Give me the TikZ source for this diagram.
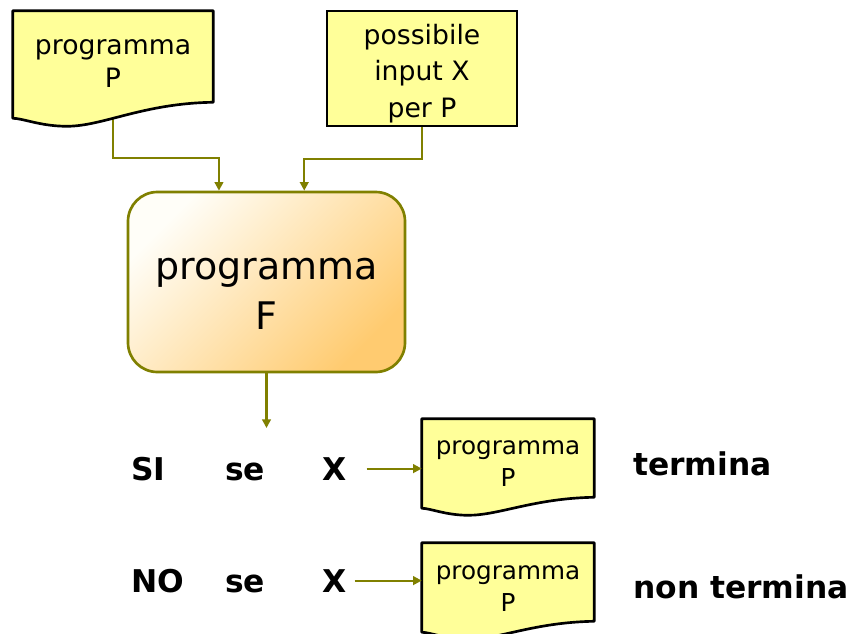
\documentclass[tikz,border=0pt]{standalone}
\usepackage{fontspec}
\setmainfont{DejaVu Sans}
\usetikzlibrary{calc,arrows.meta}
\definecolor{olivec}{HTML}{808000}
\definecolor{docyellow}{HTML}{FFFF99}
\definecolor{fA}{HTML}{FFFEF8}
\definecolor{fB}{HTML}{FFCB70}
\pgfdeclarelayer{paper}
\pgfdeclarelayer{arrows}
\pgfdeclarelayer{docs}
\pgfsetlayers{paper,arrows,docs,main}
\tikzset{
  docline/.style={draw=black, fill=docyellow, line width=2pt, line join=round},
  docnode/.style={draw=none, align=center, inner sep=0pt},
  conn/.style={draw=olivec, line width=1.6pt, -{Triangle[length=6.5pt,width=6.5pt]}},
  lbl/.style={inner sep=0pt, font=\fontsize{23.5}{28}\selectfont\bfseries},
}
% #1 node name, #2 left end offset, #3 dip offset (px, downward)
\newcommand\docshape[3]{%
  \begin{pgfonlayer}{docs}
  \filldraw[docline] (#1.north west) -- (#1.north east) -- (#1.south east)
    .. controls ($(#1.south west)!0.65!(#1.south east)+(0,1)$)
           and ($(#1.south west)!0.45!(#1.south east)+(0,#3)$)
    .. ($(#1.south west)!0.27!(#1.south east)+(0,#3)$)
    .. controls ($(#1.south west)!0.14!(#1.south east)+(0,#3)$)
           and ($(#1.south west)!0.05!(#1.south east)+(0,#2)$)
    .. ($(#1.south west)+(0,#2)$) -- cycle;
  \end{pgfonlayer}}
\begin{document}
\begin{tikzpicture}[x=0.75pt,y=-0.75pt]
\clip (0,0) rectangle (851,633);
\begin{pgfonlayer}{paper}
\fill[white] (0,0) rectangle (851,633);
\end{pgfonlayer}

% top documents
\node[docnode, minimum width=150pt, minimum height=68.25pt,
      font=\fontsize{20}{25}\selectfont] (d1) at (113,56.5) {\rule{0pt}{21.5pt}programma\\P};
\docshape{d1}{16}{24}
\node[draw=black, fill=docyellow, line width=2pt, align=center, inner sep=0pt,
      minimum width=142.5pt, minimum height=86.25pt,
      font=\fontsize{20}{27.4}\selectfont] (d2) at (422,68.5) {\rule{0pt}{22.7pt}possibile\\input X\\per P};

% program F
\node[draw=olivec, line width=2pt, rounded corners=22pt,
      top color=fA, bottom color=fB, shading angle=45,
      minimum width=207.75pt, minimum height=135pt, align=center,
      font=\fontsize{28.5}{37.5}\selectfont] (F) at (266.5,282) {\rule{0pt}{33pt}programma\\F};

% connectors into F
\begin{pgfonlayer}{arrows}
\draw[conn] (d1.south) -- ++(0,56) -| ($(F.north west)!0.33!(F.north east)$);
\draw[conn] (d2.south) -- ++(0,32) -| ($(F.north west)!0.635!(F.north east)$);
\end{pgfonlayer}
\coordinate (fout) at (266.5,428);
\draw[conn] (F.south) -- (fout);

% row labels
\node[lbl, anchor=base west] (si) at (131,480) {SI};
\node[lbl, anchor=base west] (se1) at (225,480) {se};
\node[lbl, anchor=base west] (x1) at (322,480) {X};
\node[lbl, anchor=base west] (t1) at (633,475) {termina};
\node[lbl, anchor=base west] (no) at (131,592) {NO};
\node[lbl, anchor=base west] (se2) at (225,592) {se};
\node[lbl, anchor=base west] (x2) at (322,592) {X};
\node[lbl, anchor=base west] (t2) at (633,598) {non termina};

% bottom documents
\node[docnode, minimum width=129pt, minimum height=58.5pt,
      font=\fontsize{18.5}{24}\selectfont] (d3) at (508,458) {\rule{0pt}{18.5pt}programma\\P};
\docshape{d3}{11}{18}
\node[docnode, minimum width=129pt, minimum height=58.5pt,
      font=\fontsize{18.5}{24}\selectfont] (d4) at (508,582) {\rule{0pt}{20pt}programma\\P};
\docshape{d4}{11}{18}

\draw[conn, shorten <=15pt] (x1.east) -- (x1.east -| d3.west);
\draw[conn, shorten <=6pt] (x2.east) -- (x2.east -| d4.west);
\end{tikzpicture}
\end{document}
